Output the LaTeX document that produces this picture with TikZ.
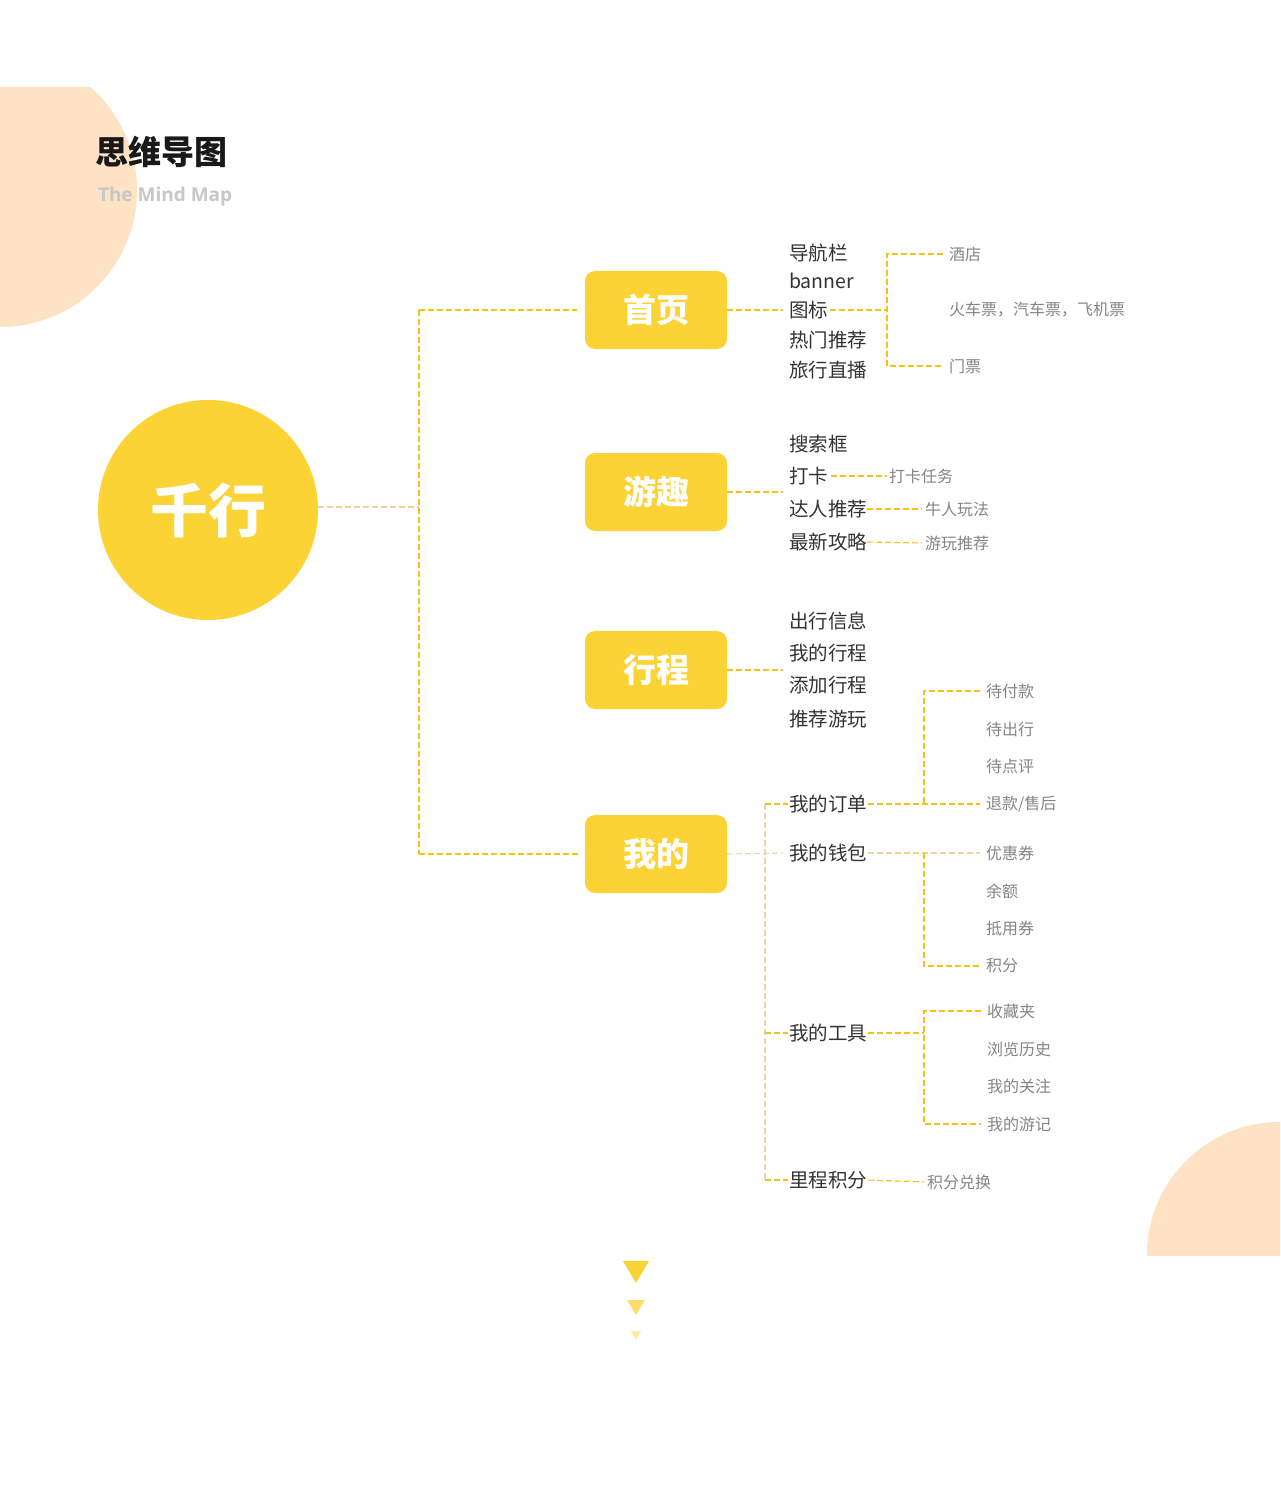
\documentclass[tikz,border=0pt]{standalone}
\usepackage{fontspec}
\setmainfont{Noto Sans CJK SC}
\newfontfamily\latinfont{Open Sans}
\definecolor{yel}{HTML}{FBD334}
\definecolor{peach}{HTML}{FDE3C4}
\definecolor{yline}{HTML}{F5C018}
\definecolor{lline}{HTML}{EBD79C}
\definecolor{txtA}{HTML}{333333}
\definecolor{txtB}{HTML}{858585}
\definecolor{tri2}{HTML}{FCDC6A}
\definecolor{tri3}{HTML}{FDE9A6}
\begin{document}
\begin{tikzpicture}[x=1pt,y=-1pt,
  every node/.style={inner sep=0pt,outer sep=0pt},
  ylink/.style={draw=yline,line width=1.1pt,dash pattern=on 6pt off 3pt},
  llink/.style={draw=lline,line width=1.1pt,dash pattern=on 6pt off 3pt},
  rootnode/.style={circle,fill=yel,minimum size=220pt,text=white,font=\bfseries\fontsize{58}{62}\selectfont},
  boxnode/.style={rounded corners=10pt,fill=yel,minimum width=142pt,minimum height=78pt,text=white,font=\bfseries\fontsize{33}{36}\selectfont},
  lvtwo/.style={anchor=west,text=txtA,font=\fontsize{19.5}{22}\selectfont},
  lvthree/.style={anchor=west,text=txtB,font=\fontsize{16}{18}\selectfont}]
\useasboundingbox (0,0) rectangle (1280,1495);
\fill[white] (0,0) rectangle (1280,1495);
% background decorations
\begin{scope}
  \clip (0,88) rectangle (400,600);
  \fill[peach] (0,190) circle (137pt);
\end{scope}
\begin{scope}
  \clip (1000,1000) rectangle (1280,1255);
  \fill[peach] (1280,1255) circle (133pt);
\end{scope}
% title
\node[anchor=west,font=\bfseries\fontsize{33}{36}\selectfont,text=black!90] (title) at (95,152) {思维导图};
\node[anchor=west,font=\latinfont\bfseries\fontsize{19}{22}\selectfont,text=black!22] (subtitle) at (98,197) {The Mind Map};
% root and boxes
\node[rootnode] (root) at (208,510) {千行};
\node[boxnode] (home) at (656,310) {首页};
\node[boxnode] (fun) at (656,492) {游趣};
\node[boxnode] (trip) at (656,670) {行程};
\node[boxnode] (me) at (656,854) {我的};
% level 2: home
\node[lvtwo] (nav) at (789,253) {导航栏};
\node[lvtwo] (ban) at (789,281) {banner};
\node[lvtwo] (ico) at (789,310) {图标};
\node[lvtwo] (hot) at (789,340) {热门推荐};
\node[lvtwo] (live) at (789,370) {旅行直播};
% level 2: fun
\node[lvtwo] (search) at (789,444) {搜索框};
\node[lvtwo] (card) at (789,476) {打卡};
\node[lvtwo] (expert) at (789,509) {达人推荐};
\node[lvtwo] (guide) at (789,542) {最新攻略};
% level 2: trip
\node[lvtwo] (info) at (789,621) {出行信息};
\node[lvtwo] (mytrip) at (789,653) {我的行程};
\node[lvtwo] (addtrip) at (789,685) {添加行程};
\node[lvtwo] (rec) at (789,719) {推荐游玩};
% level 2: me
\node[lvtwo] (order) at (789,804) {我的订单};
\node[lvtwo] (wallet) at (789,853) {我的钱包};
\node[lvtwo] (tool) at (789,1033) {我的工具};
\node[lvtwo] (mile) at (789,1180) {里程积分};
% level 3
\node[lvthree] (hotel) at (949,254) {酒店};
\node[lvthree] (tickets) at (949,310) {火车票，汽车票，飞机票};
\node[lvthree] (gate) at (949,366) {门票};
\node[lvthree] (cardtask) at (889,476) {打卡任务};
\node[lvthree] (niu) at (925,509) {牛人玩法};
\node[lvthree] (play) at (925,543) {游玩推荐};
\node[lvthree] (pay) at (986,691) {待付款};
\node[lvthree] (go) at (986,729) {待出行};
\node[lvthree] (review) at (986,766) {待点评};
\node[lvthree] (refund) at (986,804) {退款/售后};
\node[lvthree] (coupon) at (986,853) {优惠券};
\node[lvthree] (balance) at (986,891) {余额};
\node[lvthree] (voucher) at (986,928) {抵用券};
\node[lvthree] (points) at (986,966) {积分};
\node[lvthree] (fav) at (987,1011) {收藏夹};
\node[lvthree] (hist) at (987,1049) {浏览历史};
\node[lvthree] (follow) at (987,1086) {我的关注};
\node[lvthree] (notes) at (987,1124) {我的游记};
\node[lvthree] (exch) at (927,1182) {积分兑换};
% bus coordinates
\coordinate (bA) at (419,0);
\coordinate (bB) at (887,0);
\coordinate (bC) at (765,0);
\coordinate (bD) at (924,0);
% root to level 1
\draw[llink] ([yshift=3pt]root.east) -- ([yshift=3pt]root.east -| bA);
\draw[ylink] (home.west -| bA) -- (me.west -| bA);
\draw[ylink,shorten >=8pt] (home.west -| bA) -- (home.west);
\draw[ylink,shorten >=4pt] (me.west -| bA) -- (me.west);
% level 1 to level 2
\draw[ylink,shorten >=6pt] (home.east) -- (ico.west);
\draw[ylink,shorten >=6pt] (fun.east) -- (fun.east -| card.west);
\draw[ylink,shorten >=6pt] (trip.east) -- (trip.east -| info.west);
\draw[llink,shorten >=6pt] (me.east) -- (wallet.west);
\draw[llink] (order.west -| bC) -- (mile.west -| bC);
\draw[ylink,shorten >=1pt] (order.west -| bC) -- (order.west);
\draw[ylink,shorten >=1pt] (tool.west -| bC) -- (tool.west);
\draw[ylink,shorten >=1pt] (mile.west -| bC) -- (mile.west);
% home subtree
\draw[ylink,shorten <=2pt] (ico.east) -- (ico.east -| bB);
\draw[ylink] ([xshift=-6pt]hotel.west) -- (hotel.west -| bB) -- (gate.west -| bB) -- ([xshift=-6pt]gate.west);
% fun subtree
\draw[ylink,shorten <=3pt,shorten >=2pt] (card.east) -- (cardtask.west);
\draw[ylink,shorten >=3pt] (expert.east) -- (niu.west);
\draw[ylink,shorten >=3pt] (guide.east) -- (play.west);
% me subtrees
\draw[ylink,shorten <=1pt,shorten >=6pt] (order.east) -- (refund.west);
\draw[ylink] ([xshift=-6pt]pay.west) -- (pay.west -| bD) -- (order.east -| bD);
\draw[llink,shorten <=1pt,shorten >=6pt] (wallet.east) -- (coupon.west);
\draw[ylink] (wallet.east -| bD) -- (points.west -| bD) -- ([xshift=-6pt]points.west);
\draw[ylink,shorten <=1pt] (tool.east) -- (tool.east -| bD);
\draw[ylink] ([xshift=-6pt]fav.west) -- (fav.west -| bD) -- (notes.west -| bD) -- ([xshift=-6pt]notes.west);
\draw[ylink,shorten <=1pt,shorten >=3pt] (mile.east) -- (exch.west);
% bottom triangles
\fill[yel] (623,1261) -- (649,1261) -- (636,1283) -- cycle;
\fill[tri2] (627,1300) -- (645,1300) -- (636,1315) -- cycle;
\fill[tri3] (631,1331) -- (641,1331) -- (636,1340) -- cycle;
\end{tikzpicture}
\end{document}
